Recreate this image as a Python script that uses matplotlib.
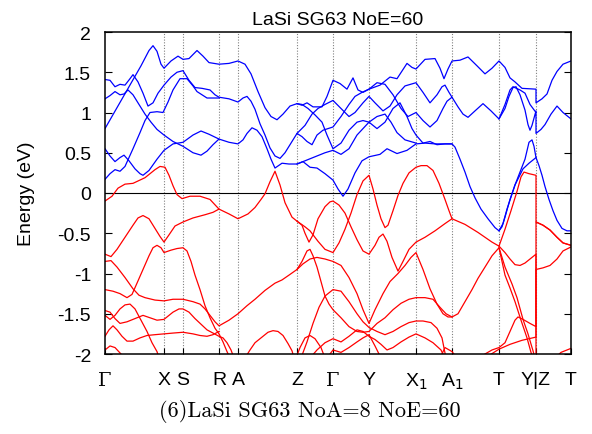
import matplotlib
matplotlib.use('Agg')
import matplotlib.pyplot as plt

# high-symmetry points along the path (path length, arbitrary units)
k_ticks = [0, 59, 78, 114, 133, 192, 228, 264, 311, 347, 394, 431, 466]
k_labels = ['Γ', 'X', 'S', 'R', 'A', 'Z', 'Γ', 'Y', 'X$_1$', 'A$_1$', 'T', 'Y|Z', 'T']

e_ticks = [2, 1.5, 1, 0.5, 0, -0.5, -1, -1.5, -2]
e_labels = ['2', '1.5', '1', '0.5', '0', '-0.5', '-1', '-1.5', '-2']

# conduction bands (k, E in eV)
cb1 = [(0, 0.80), (12, 1.06), (24, 1.32), (36, 1.58), (44, 1.77), (48, 1.83), (52, 1.76), (56, 1.60),
       (59, 1.55), (66, 1.64), (73, 1.70), (78, 1.66), (84, 1.67), (92, 1.77), (98, 1.70), (104, 1.62),
       (114, 1.60), (124, 1.61), (133, 1.64), (140, 1.60), (146, 1.48), (153, 1.26), (160, 1.06),
       (166, 0.95), (172, 0.91), (178, 0.98), (185, 1.08), (192, 1.11), (197, 1.09), (202, 1.12),
       (208, 1.07), (217, 1.07), (222, 1.20), (228, 1.40), (235, 1.36), (242, 1.29), (248, 1.43),
       (253, 1.28), (258, 1.25), (264, 1.29), (275, 1.34), (285, 1.44), (292, 1.42), (302, 1.61),
       (307, 1.56), (311, 1.54), (320, 1.66), (330, 1.67), (335, 1.55), (339, 1.42), (343, 1.54),
       (347, 1.64), (355, 1.65), (363, 1.69), (372, 1.58), (380, 1.48), (387, 1.55), (394, 1.64),
       (400, 1.56), (405, 1.43), (410, 1.38), (417, 1.30), (431, 1.29), (431, 1.12), (437, 1.17),
       (442, 1.23), (447, 1.40), (452, 1.51), (458, 1.60), (466, 1.64)]
cb2 = [(0, 1.41), (5, 1.40), (10, 1.32), (15, 1.35), (20, 1.34), (25, 1.42), (28, 1.47), (33, 1.38),
       (38, 1.24), (43, 1.08), (48, 1.12), (53, 1.24), (59, 1.34), (66, 1.44), (72, 1.50), (78, 1.52),
       (84, 1.40), (90, 1.31), (97, 1.30), (105, 1.28), (110, 1.22), (114, 1.19), (124, 1.17),
       (133, 1.13), (138, 1.18), (142, 1.20), (146, 1.14), (150, 1.04), (155, 0.86), (160, 0.72),
       (165, 0.56), (170, 0.46), (175, 0.43), (180, 0.50), (186, 0.62), (192, 0.74), (197, 0.70),
       (202, 0.64), (207, 0.60), (212, 0.72), (218, 0.78), (223, 0.80), (228, 0.82), (236, 0.95),
       (244, 1.10), (250, 1.20), (257, 1.25), (264, 1.29), (272, 1.37), (280, 1.35), (288, 1.22),
       (296, 1.05), (303, 0.95), (311, 1.00), (318, 0.90), (325, 0.82), (332, 0.90), (338, 1.05),
       (342, 1.14), (347, 1.19), (353, 1.07), (358, 0.98), (363, 0.94), (370, 1.02), (378, 1.11),
       (386, 1.02), (394, 0.92), (400, 1.05), (404, 1.20), (408, 1.31), (411, 1.32), (415, 1.22),
       (420, 1.03), (423, 0.85), (425, 0.78), (427, 0.84), (431, 1.02), (431, 0.74), (436, 0.79),
       (440, 0.85), (446, 0.98), (452, 1.08), (458, 1.00), (466, 0.92)]
cb3 = [(0, 1.17), (5, 1.21), (10, 1.26), (15, 1.22), (19, 1.23), (23, 1.28), (28, 1.22), (34, 1.10),
       (40, 0.98), (46, 0.88), (52, 0.79), (59, 0.72), (68, 0.64), (78, 0.58), (88, 0.50), (96, 0.47),
       (102, 0.52), (108, 0.60), (114, 0.67), (124, 0.63), (133, 0.61), (138, 0.66), (142, 0.74),
       (147, 0.81), (152, 0.78), (157, 0.70), (162, 0.55), (166, 0.42), (170, 0.31), (177, 0.37),
       (184, 0.36), (192, 0.36), (198, 0.39), (205, 0.32), (212, 0.31), (220, 0.24), (228, 0.16),
       (233, 0.05), (238, -0.04), (243, 0.05), (250, 0.25), (257, 0.40), (264, 0.45), (275, 0.48),
       (282, 0.55), (292, 0.49), (302, 0.53), (311, 0.61), (320, 0.62), (330, 0.61), (347, 0.61),
       (350, 0.57), (355, 0.42), (360, 0.26), (365, 0.08), (370, -0.06), (376, -0.20), (383, -0.32),
       (390, -0.43), (394, -0.47), (397, -0.42), (400, -0.30), (405, -0.08), (410, 0.10), (415, 0.26),
       (420, 0.42), (424, 0.63), (427, 0.66), (429, 0.58), (431, 0.44), (434, 0.34), (437, 0.22),
       (440, 0.08), (444, -0.08), (448, -0.22), (452, -0.34), (457, -0.44), (462, -0.47), (466, -0.47)]
# bands degenerate with others on R-A-Z and A1-T are only listed where they split off
cb4_gr = [(0, 0.55), (5, 0.46), (10, 0.39), (15, 0.44), (19, 0.47), (24, 0.40), (30, 0.30), (35, 0.24),
          (38, 0.22), (44, 0.28), (52, 0.42), (59, 0.53), (68, 0.61), (78, 0.63), (88, 0.72), (96, 0.77),
          (104, 0.73), (114, 0.67)]
cb4_za = [(192, 0.36), (200, 0.40), (210, 0.45), (220, 0.50), (228, 0.53), (236, 0.48), (244, 0.55),
          (252, 0.72), (258, 0.80), (264, 0.88), (272, 0.80), (280, 0.88), (288, 1.05), (295, 1.12),
          (302, 0.95), (307, 0.80), (311, 0.72), (318, 0.62), (325, 0.64), (332, 0.60), (340, 0.61),
          (347, 0.61)]
cb4_ty = [(394, -0.47), (398, -0.38), (402, -0.20), (410, 0.10), (418, 0.30), (424, 0.37), (431, 0.44)]
cb5_gr = [(0, 0.17), (5, 0.24), (10, 0.29), (15, 0.27), (20, 0.33), (28, 0.55), (35, 0.75), (40, 0.90),
          (45, 1.00), (52, 1.01), (58, 1.00), (63, 1.13), (68, 1.28), (75, 1.42), (82, 1.42), (88, 1.33),
          (92, 1.26), (102, 1.18), (114, 1.18)]
cb5_za = [(192, 0.74), (200, 0.84), (207, 0.98), (213, 1.05), (220, 1.10), (228, 1.15), (236, 1.05),
          (244, 0.95), (250, 1.00), (258, 1.12), (264, 1.20), (270, 1.12), (278, 1.02), (285, 1.08),
          (292, 1.22), (300, 1.33), (311, 1.37), (318, 1.25), (325, 1.12), (332, 1.22), (337, 1.32),
          (340, 1.34), (344, 1.25), (347, 1.19)]
cb5_ty = [(394, 0.92), (400, 1.10), (405, 1.28), (408, 1.32), (415, 1.28), (420, 1.24), (425, 1.10),
          (431, 1.00)]
cb6 = [(192, 1.11), (197, 1.10), (203, 1.05), (210, 0.97), (217, 0.88), (222, 0.72), (228, 0.55),
       (236, 0.62), (244, 0.78), (252, 0.88), (258, 0.90), (264, 0.88), (272, 0.95), (280, 0.98),
       (286, 0.88), (292, 0.75), (300, 0.66), (311, 0.62)]

# valence bands
vb1 = [(0, -0.10), (7, -0.04), (13, 0.06), (20, 0.11), (28, 0.12), (40, 0.19), (50, 0.29), (55, 0.33),
       (60, 0.32), (64, 0.22), (68, 0.09), (72, -0.02), (77, -0.07), (85, -0.04), (95, -0.04),
       (105, -0.08), (114, -0.20), (124, -0.26), (133, -0.32), (143, -0.26), (150, -0.18), (156, -0.08),
       (160, -0.01), (165, 0.14), (170, 0.27), (175, 0.10), (180, -0.12), (187, -0.30), (192, -0.35),
       (197, -0.40), (200, -0.50), (204, -0.61), (208, -0.52), (213, -0.32), (220, -0.17), (225, -0.11),
       (228, -0.10), (234, -0.15), (240, -0.25), (246, -0.42), (252, -0.58), (258, -0.72), (264, -0.76),
       (270, -0.65), (274, -0.55), (278, -0.51), (282, -0.60), (287, -0.80), (293, -0.97), (298, -0.85),
       (304, -0.70), (311, -0.61), (320, -0.55), (330, -0.47), (340, -0.38), (347, -0.32), (360, -0.39),
       (373, -0.49), (387, -0.61), (394, -0.66), (400, -0.45), (406, -0.22), (412, 0.02), (416, 0.20),
       (419, 0.26), (424, 0.24), (431, 0.22), (431, -0.36), (438, -0.40), (445, -0.46), (452, -0.55),
       (458, -0.62), (466, -0.65)]
vb2_gr = [(0, -0.76), (6, -0.79), (12, -0.70), (20, -0.55), (28, -0.40), (33, -0.31), (38, -0.28),
          (44, -0.32), (50, -0.44), (55, -0.54), (59, -0.61), (64, -0.52), (70, -0.41), (78, -0.36),
          (88, -0.31), (100, -0.27), (108, -0.24), (114, -0.20)]
vb2_za = [(192, -0.35), (200, -0.42), (205, -0.47), (213, -0.60), (220, -0.70), (228, -0.74),
          (234, -0.62), (240, -0.45), (246, -0.25), (252, -0.02), (258, 0.15), (264, 0.22), (268, 0.05),
          (272, -0.15), (276, -0.32), (280, -0.43), (283, -0.40), (288, -0.22), (293, -0.03), (298, 0.12),
          (304, 0.25), (311, 0.32), (316, 0.34), (322, 0.34), (328, 0.28), (334, 0.12), (340, -0.08),
          (344, -0.22), (347, -0.32)]
vb2_ty = [(394, -0.66), (400, -0.74), (405, -0.82), (410, -0.89), (415, -0.90), (420, -0.87),
          (425, -0.82), (431, -0.76), (431, -2.10)]
vb3 = [(0, -0.85), (6, -0.84), (12, -0.92), (20, -1.05), (28, -1.19), (34, -1.27), (40, -1.30),
       (50, -1.33), (59, -1.34), (68, -1.32), (78, -1.32), (88, -1.35), (95, -1.38), (100, -1.44),
       (105, -1.52), (110, -1.60), (114, -1.65), (124, -1.58), (133, -1.50), (142, -1.40), (150, -1.32),
       (160, -1.21), (170, -1.12), (177, -1.08), (184, -1.02), (192, -0.95), (197, -0.85), (202, -0.72),
       (205, -0.70), (208, -0.78), (212, -0.92), (216, -1.10), (220, -1.28), (224, -1.38), (228, -1.45),
       (236, -1.55), (244, -1.66), (252, -1.72), (258, -1.73), (264, -1.72), (272, -1.62), (280, -1.55),
       (288, -1.45), (296, -1.37), (304, -1.32), (311, -1.30), (320, -1.30), (328, -1.32), (335, -1.42),
       (341, -1.50), (347, -1.54), (353, -1.50), (360, -1.35), (367, -1.20), (373, -1.06), (380, -0.92),
       (387, -0.78), (394, -0.68), (400, -0.92), (407, -1.13), (412, -1.30), (418, -1.57), (423, -1.75),
       (428, -1.96), (430, -2.05)]
vb4 = [(0, -1.20), (8, -1.22), (15, -1.25), (22, -1.30), (27, -1.26), (32, -1.12), (38, -0.95),
       (44, -0.78), (48, -0.68), (52, -0.65), (56, -0.68), (59, -0.74), (66, -0.71), (72, -0.69),
       (78, -0.68), (82, -0.72), (86, -0.85), (90, -1.02), (95, -1.20), (100, -1.40), (105, -1.55),
       (110, -1.68), (114, -1.75), (118, -1.85), (122, -1.97), (125, -2.05)]
vb5 = [(0, -1.46), (5, -1.48), (10, -1.56), (15, -1.62), (22, -1.60), (30, -1.56), (38, -1.52),
       (45, -1.55), (52, -1.58), (59, -1.57), (68, -1.48), (74, -1.44), (78, -1.44), (84, -1.48),
       (90, -1.56), (96, -1.63), (102, -1.70), (108, -1.74), (114, -1.78), (118, -1.80), (122, -1.86),
       (126, -1.95), (129, -2.05)]
vb6 = [(0, -1.52), (5, -1.57), (10, -1.52), (15, -1.44), (20, -1.39), (25, -1.38), (30, -1.44),
       (36, -1.58), (42, -1.72), (47, -1.86), (52, -1.97), (54, -2.05)]
vb7 = [(0, -1.78), (4, -1.70), (8, -1.65), (12, -1.70), (17, -1.78), (22, -1.84), (28, -1.84),
       (35, -1.80), (42, -1.77), (50, -1.76), (59, -1.75), (68, -1.74), (78, -1.73), (88, -1.75),
       (95, -1.77), (102, -1.78), (108, -1.76), (114, -1.72)]
vb8 = [(0, -1.95), (5, -1.90), (10, -1.92), (16, -2.00), (20, -2.05)]
vb9_za = [(192, -0.95), (198, -0.88), (205, -0.82), (212, -0.80), (220, -0.82), (228, -0.85),
          (236, -0.90), (244, -1.05), (252, -1.25), (258, -1.45), (264, -1.62), (270, -1.45),
          (278, -1.25), (285, -1.10), (293, -1.00), (300, -0.90), (306, -0.80), (311, -0.74),
          (318, -0.95), (325, -1.19), (332, -1.38), (338, -1.50), (343, -1.54), (347, -1.54)]
vb9_ty = [(394, -0.68), (400, -1.02), (405, -1.18), (410, -1.35), (416, -1.58), (422, -1.80),
          (426, -1.98), (428, -2.05)]
vb10 = [(140, -2.05), (145, -1.95), (150, -1.86), (157, -1.79), (163, -1.73), (168, -1.71), (173, -1.72),
        (178, -1.77), (183, -1.87), (187, -1.96), (189, -2.05)]
vb11 = [(191, -2.05), (195, -1.92), (200, -1.80), (205, -1.77), (210, -1.81), (216, -1.92), (220, -2.05)]
vb12 = [(196, -2.05), (202, -1.85), (208, -1.62), (214, -1.42), (220, -1.28), (228, -1.20), (236, -1.22),
        (244, -1.35), (252, -1.50), (258, -1.60), (264, -1.67), (272, -1.72), (280, -1.76), (288, -1.72),
        (296, -1.66), (304, -1.61), (311, -1.59), (318, -1.59), (326, -1.61), (332, -1.68), (337, -1.80),
        (341, -2.05)]
vb13 = [(205, -2.05), (212, -1.95), (220, -1.86), (228, -1.81), (236, -1.85), (244, -1.78), (252, -1.70),
        (258, -1.72), (264, -1.78), (270, -1.82), (276, -1.88), (282, -1.95), (288, -1.92), (296, -1.85),
        (304, -1.79), (311, -1.75), (320, -1.80), (328, -1.86), (336, -1.95), (340, -2.05)]
vb14 = [(222, -2.05), (228, -1.95), (236, -1.98), (244, -1.92), (252, -1.85), (258, -1.80), (264, -1.76),
        (270, -1.90), (276, -2.05)]
vb15 = [(335, -2.05), (340, -1.92), (347, -1.97), (352, -2.05)]
vb16 = [(372, -2.05), (380, -2.00), (387, -1.95), (394, -1.92), (400, -1.86), (405, -1.72), (410, -1.58),
        (413, -1.54), (418, -1.57), (425, -1.62), (431, -1.66), (431, -0.36), (438, -0.40), (445, -0.46),
        (452, -0.55), (458, -0.62), (466, -0.65)]
vb17 = [(380, -2.05), (394, -1.94), (405, -1.88), (417, -1.83), (431, -1.79), (431, -0.95), (438, -0.93),
        (445, -0.90), (452, -0.82), (458, -0.72), (466, -0.67)]
vb18 = [(450, -2.05), (456, -1.98), (462, -1.95), (466, -1.93)]

conduction = [cb1, cb2, cb3, cb4_gr, cb4_za, cb4_ty, cb5_gr, cb5_za, cb5_ty, cb6]
valence = [vb1, vb2_gr, vb2_za, vb2_ty, vb3, vb4, vb5, vb6, vb7, vb8, vb9_za, vb9_ty, vb10, vb11,
           vb12, vb13, vb14, vb15, vb16, vb17, vb18]

plt.rcParams['font.family'] = ['Liberation Sans', 'DejaVu Sans']

fig = plt.figure(figsize=(5.92, 4.35), dpi=100)
ax = fig.add_axes([105 / 592, 1 - 355 / 435, 466 / 592, 322 / 435])

for band in valence:
    k, e = zip(*band)
    ax.plot(k, e, color='#ff0000', lw=0.9, solid_joinstyle='round')
for band in conduction:
    k, e = zip(*band)
    ax.plot(k, e, color='#0000ff', lw=0.9, solid_joinstyle='round')

for kt in k_ticks[1:-1]:
    ax.axvline(kt, color='#808080', lw=0.8, ls=(0, (1, 1.5)), zorder=0)
ax.axhline(0, color='black', lw=0.8, zorder=0)

ax.set_xlim(k_ticks[0], k_ticks[-1])
ax.set_ylim(-2, 2)
ax.set_xticks(k_ticks)
ax.set_xticklabels(k_labels)
ax.set_yticks(e_ticks)
ax.set_yticklabels(e_labels)
for lbl in ax.get_xticklabels():
    if lbl.get_text() == 'Γ':
        lbl.set_family('DejaVu Serif')
ax.tick_params(axis='y', direction='in', length=5, width=0.8, labelsize=14, pad=10,
               left=True, right=True)
ax.tick_params(axis='x', direction='in', length=4, width=0.8, labelsize=14, pad=12,
               bottom=True, top=False)
for s in ax.spines.values():
    s.set_linewidth(1.1)

ax.set_ylabel('Energy (eV)', fontsize=14)
ax.yaxis.set_label_coords(-0.15, 0.5)
ax.set_title('LaSi SG63 NoE=60', fontsize=14, pad=6)

fig.text(310 / 592, 1 - 412 / 435, '(6)LaSi SG63 NoA=8 NoE=60', family='cmr10', fontsize=16,
         ha='center', va='center')

fig.savefig('out.png', dpi=100)
